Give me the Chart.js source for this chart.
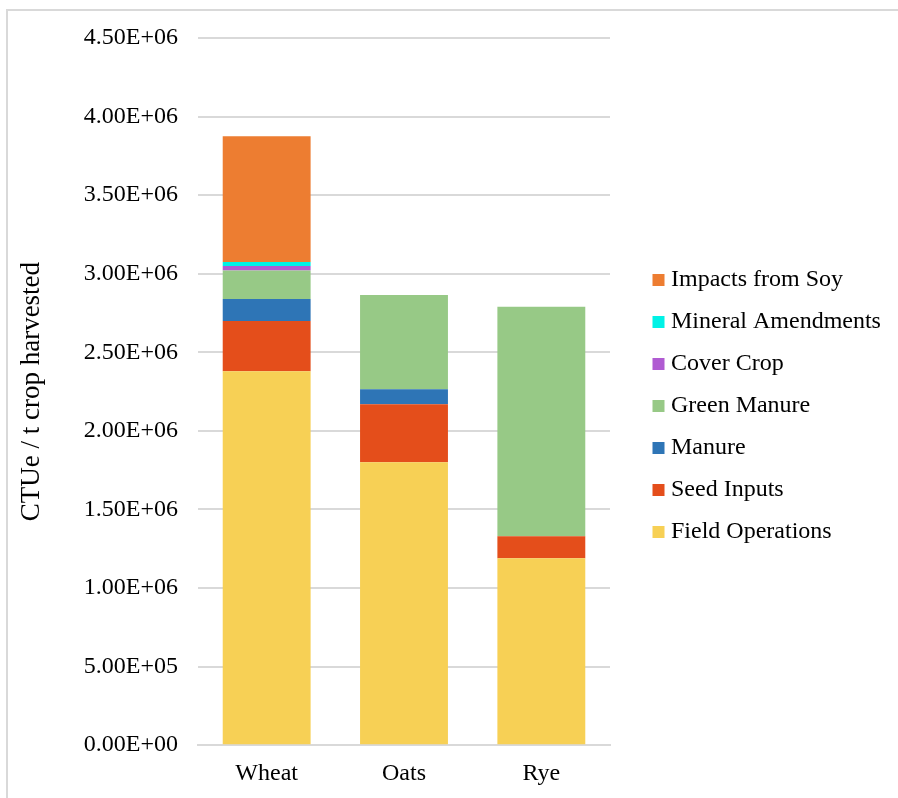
<!DOCTYPE html>
<html>
<head>
<meta charset="utf-8">
<script src="https://cdn.jsdelivr.net/npm/chart.js@4"></script>
<style>
  html, body { margin: 0; padding: 0; background: #fff; }
  #frame {
    position: absolute; left: 6px; top: 9px; width: 900px; height: 800px;
    border-top: 2px solid #d9d9d9; border-left: 2px solid #d9d9d9;
  }
  #wrap { position: absolute; left: 0; top: 0; width: 898px; height: 798px; }
</style>
</head>
<body>
<div id="frame"></div>
<div id="wrap"><canvas id="chart"></canvas></div>
<script>
// crops on the x axis
const crops = ['Wheat', 'Oats', 'Rye'];

// CTUe per t crop harvested, one array per impact source
const fieldOperations = [2.38e6, 1.80e6, 1.19e6];
const seedInputs = [0.32e6, 0.37e6, 0.14e6];
const manure = [0.14e6, 0.095e6, 0];
const greenManure = [0.18e6, 0.60e6, 1.46e6];
const coverCrop = [0.03e6, 0, 0];
const mineralAmendments = [0.025e6, 0, 0];
const impactsFromSoy = [0.80e6, 0, 0];

const yTicks = { min: 0, max: 4.5e6, step: 5e5 };

// 4.50E+06 style labels
function sci(v) {
    if (v === 0) return '0.00E+00';
    let e = Math.floor(Math.log10(Math.abs(v)));
    let m = v / Math.pow(10, e);
    if (Math.abs(m) >= 9.995) { m /= 10; e += 1; }
    const sign = e < 0 ? '-' : '+';
    return m.toFixed(2) + 'E' + sign + String(Math.abs(e)).padStart(2, '0');
}

const serif = "'Liberation Serif', 'Times New Roman', serif";
const font = { family: serif, size: 24 };

const series = [
    ['Field Operations', fieldOperations, '#F7D055'],
    ['Seed Inputs', seedInputs, '#E44E1B'],
    ['Manure', manure, '#2E75B6'],
    ['Green Manure', greenManure, '#97C986'],
    ['Cover Crop', coverCrop, '#B05BD2'],
    ['Mineral Amendments', mineralAmendments, '#00F2E6'],
    ['Impacts from Soy', impactsFromSoy, '#ED7D31']
];

new Chart(document.getElementById('chart'), {
    type: 'bar',
    data: {
        labels: crops,
        datasets: series.map(s => ({
            label: s[0],
            data: s[1],
            backgroundColor: s[2],
            borderWidth: 0,
            barPercentage: 0.64,
            categoryPercentage: 1,
            yAxisID: 'y'
        }))
    },
    options: {
        responsive: true,
        maintainAspectRatio: false,
        animation: false,
        layout: { padding: { top: 38, bottom: -4, left: 16, right: 18 } },
        plugins: {
            tooltip: { enabled: false },
            legend: {
                position: 'right',
                fullSize: false,
                reverse: true,
                maxWidth: 240,
                // blank title only nudges the entries down a little
                title: { display: true, text: ' ', font: { size: 20 }, padding: 2.5 },
                labels: {
                    usePointStyle: true,
                    pointStyle: 'rect',
                    boxWidth: 1,
                    boxHeight: 12,
                    padding: 18,
                    color: '#000',
                    font: font
                }
            }
        },
        scales: {
            x: {
                stacked: true,
                grid: { display: false, drawTicks: false, tickLength: 0 },
                border: { display: true, color: '#d9d9d9', width: 2 },
                ticks: { color: '#000', font: font, padding: 14 }
            },
            y: {
                stacked: true,
                min: yTicks.min,
                max: yTicks.max,
                afterFit: scale => { scale.width = 182; },
                grid: { color: '#d9d9d9', lineWidth: 2, drawTicks: false },
                border: { display: false },
                ticks: {
                    stepSize: yTicks.step,
                    color: '#000',
                    font: font,
                    padding: 20,
                    callback: v => sci(v)
                },
                title: {
                    display: true,
                    text: 'CTUe / t crop harvested',
                    color: '#000',
                    font: { family: serif, size: 27 },
                    padding: { top: 0, bottom: 0 }
                }
            },
            // empty spacer between the plot and the legend
            gap: {
                position: 'right',
                display: true,
                min: 0,
                max: 1,
                afterFit: scale => { scale.width = 30; },
                grid: { display: false },
                border: { display: false },
                ticks: { display: false }
            }
        }
    }
});
</script>
</body>
</html>
